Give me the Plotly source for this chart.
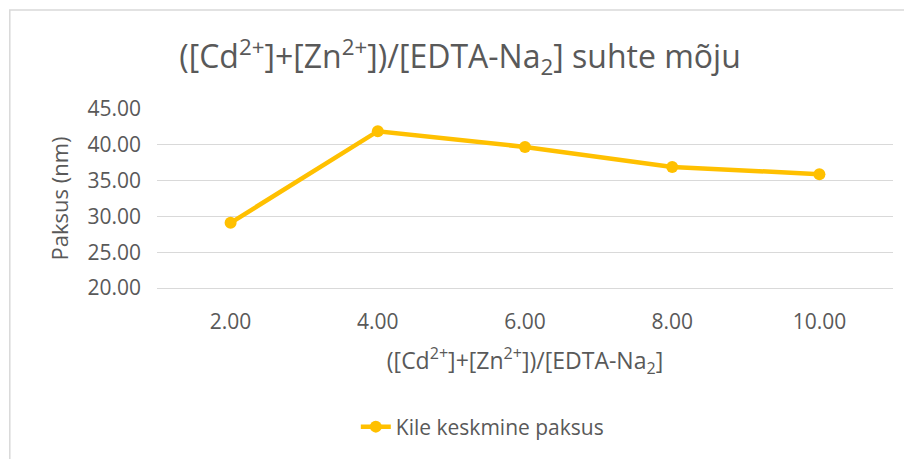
import plotly.graph_objects as go

# andmed
suhe = ['2.00', '4.00', '6.00', '8.00', '10.00']
paksus = [29.1, 41.9, 39.7, 36.9, 35.9]

hall = '#595959'
font = 'Open Sans'

fig = go.Figure()
fig.add_trace(go.Scatter(x=suhe, y=paksus, mode='lines+markers', name='Kile keskmine paksus',
                         line=dict(color='#FFC000', width=4.5),
                         marker=dict(color='#FFC000', size=12)))

# lehe body margin on 8px, seepärast 904x451
fig.update_layout(
    width=904, height=451,
    margin=dict(l=149, r=19, t=101, b=171),
    paper_bgcolor='white', plot_bgcolor='white',
    font=dict(family=font, color=hall, size=21),
    title=dict(text='([Cd<sup>2+</sup>]+[Zn<sup>2+</sup>])/[EDTA-Na<sub>2</sub>] suhte mõju',
               x=0.5, xanchor='center', y=0.891, yanchor='middle',
               font=dict(size=32, color=hall)),
    showlegend=True,
    legend=dict(orientation='h', x=0.442, xanchor='center', y=0.071, yref='container', yanchor='middle',
                font=dict(size=21, color=hall)),
)
fig.update_xaxes(type='category', range=[-0.5, 4.5], showgrid=False, showline=True,
                 linecolor='#D9D9D9', linewidth=1,
                 ticks='', ticklabelstandoff=15, tickfont=dict(size=21),
                 title=dict(text='([Cd<sup>2+</sup>]+[Zn<sup>2+</sup>])/[EDTA-Na<sub>2</sub>]',
                            font=dict(size=23), standoff=18))
fig.update_yaxes(range=[20, 45], dtick=5, tickformat='.2f', showgrid=True, gridcolor='#D9D9D9',
                 gridwidth=1.3, zeroline=False, showline=False, ticks='', ticklabelstandoff=15,
                 tickfont=dict(size=21),
                 title=dict(text='Paksus (nm)', font=dict(size=22), standoff=12))

# diagrammi ala raam
fig.add_shape(type='rect', xref='paper', yref='paper', x0=-0.2, x1=1.2, y0=-2, y1=1.553,
              line=dict(color='#D9D9D9', width=1.5), fillcolor='rgba(0,0,0,0)', layer='below')

fig.write_html('out.html')
